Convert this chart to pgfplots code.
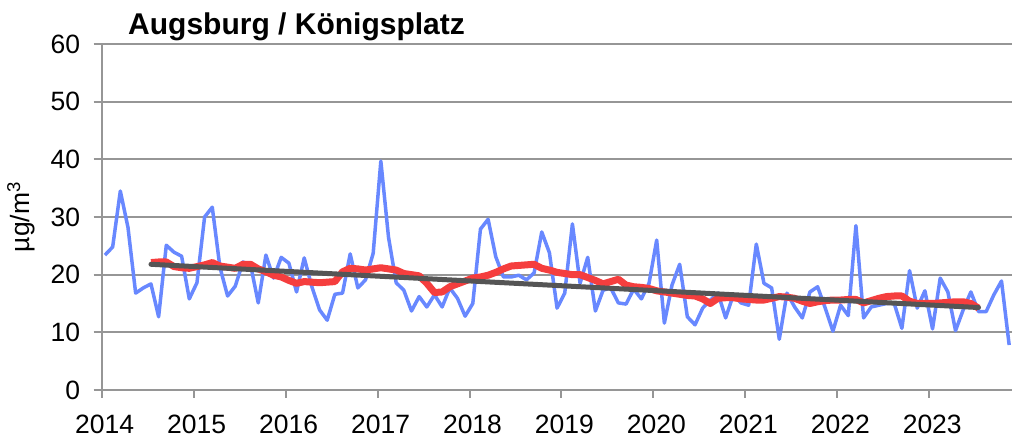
\documentclass[border=0pt]{standalone}
\usepackage{fontspec}
\setmainfont{Liberation Sans}
\usepackage{pgfplots}
\usepackage{pgfplotstable}
\pgfplotsset{compat=1.18}
\definecolor{cblue}{RGB}{104,136,255}
\definecolor{cred}{RGB}{245,62,62}
\definecolor{ctrend}{RGB}{85,85,85}
\definecolor{cgrid}{RGB}{150,150,150}

\pgfplotstableread{
m v
0 23.4
1 24.8
2 34.5
3 28.2
4 16.8
5 17.7
6 18.4
7 12.7
8 25.1
9 23.9
10 23.2
11 15.8
12 18.6
13 30.0
14 31.7
15 21.3
16 16.3
17 18.0
18 22.2
19 21.7
20 15.1
21 23.4
22 19.4
23 23.0
24 22.0
25 17.0
26 22.9
27 17.9
28 13.9
29 12.1
30 16.6
31 16.8
32 23.6
33 17.7
34 19.1
35 23.7
36 39.7
37 26.5
38 18.6
39 17.3
40 13.7
41 16.2
42 14.4
43 16.5
44 14.4
45 17.7
46 15.9
47 12.8
48 15.0
49 27.9
50 29.6
51 23.1
52 19.6
53 19.6
54 19.9
55 19.1
56 20.3
57 27.4
58 23.8
59 14.2
60 16.8
61 28.8
62 18.5
63 23.0
64 13.7
65 17.3
66 17.7
67 15.1
68 14.9
69 17.5
70 15.8
71 18.5
72 26.0
73 11.6
74 18.2
75 21.8
76 12.7
77 11.3
78 14.2
79 15.6
80 16.8
81 12.5
82 16.5
83 15.1
84 14.7
85 25.3
86 18.5
87 17.7
88 8.8
89 16.8
90 14.4
91 12.5
92 17.0
93 17.9
94 14.2
95 10.2
96 14.7
97 12.9
98 28.5
99 12.5
100 14.4
101 14.7
102 15.0
103 15.0
104 10.7
105 20.7
106 14.2
107 17.2
108 10.6
109 19.4
110 17.0
111 10.3
112 13.9
113 17.0
114 13.6
115 13.6
116 16.5
117 18.9
118 7.8
}\monthly

\pgfplotstableread{
m v
6 22.1
7 22.2
8 22.2
9 21.4
10 21.2
11 21.1
12 21.4
13 21.7
14 22.1
15 21.5
16 21.3
17 21.1
18 21.8
19 21.8
20 21.0
21 20.5
22 19.9
23 19.6
24 19.0
25 18.5
26 18.8
27 18.7
28 18.6
29 18.7
30 18.8
31 20.5
32 21.1
33 21.0
34 20.8
35 21.0
36 21.2
37 21.0
38 20.8
39 20.2
40 20.0
41 19.8
42 18.5
43 16.9
44 17.0
45 17.9
46 18.4
47 18.9
48 19.4
49 19.6
50 19.9
51 20.4
52 21.0
53 21.5
54 21.6
55 21.7
56 21.8
57 21.1
58 20.8
59 20.4
60 20.2
61 20.0
62 20.0
63 19.5
64 19.0
65 18.4
66 18.8
67 19.2
68 18.2
69 17.9
70 17.8
71 17.6
72 17.2
73 17.0
74 16.8
75 16.6
76 16.4
77 16.3
78 15.8
79 15.0
80 15.9
81 16.0
82 16.0
83 15.8
84 15.7
85 15.6
86 15.6
87 15.9
88 16.2
89 16.1
90 15.9
91 15.4
92 15.0
93 15.3
94 15.5
95 15.6
96 15.6
97 15.7
98 15.7
99 15.1
100 15.5
101 15.9
102 16.2
103 16.3
104 16.3
105 15.4
106 15.0
107 15.0
108 15.0
109 15.1
110 15.2
111 15.3
112 15.3
113 15.0
114 14.2
}\running

\pgfplotstableread{
m v
6 21.8
114 14.3
}\trend

\begin{document}
\begin{tikzpicture}
\path[use as bounding box] (-101.7pt,-48pt) rectangle (910.3pt,390pt);
\begin{axis}[
  scale only axis,
  width=910.3pt, height=346pt,
  xmin=0, xmax=118.8,
  ymin=0, ymax=60,
  xtick={0,12,24,36,48,60,72,84,96,108},
  xticklabels={2014,2015,2016,2017,2018,2019,2020,2021,2022,2023},
  ytick={0,10,20,30,40,50,60},
  axis x line=bottom, axis y line=left,
  axis line style={-, cgrid, line width=2pt},
  tick align=outside,
  major tick length=8pt,
  tick style={cgrid, line width=2pt},
  ymajorgrids,
  grid style={cgrid, line width=2pt},
  /pgf/number format/assume math mode=true,
  every tick label/.append style={font=\fontsize{26.5}{30}\selectfont},
  yticklabel style={xshift=-10pt},
  xticklabel style={yshift=-13pt, xshift=3pt},
  ylabel={µg/m\textsuperscript{3}},
  every axis y label/.style={at={(axis description cs:-0.0887,0.5)}, rotate=90, anchor=center, font=\fontsize{26.5}{30}\selectfont},
  title={Augsburg / Königsplatz},
  every axis title/.style={at={(rel axis cs:0,1)}, anchor=base west, xshift=23pt, yshift=9pt, font=\fontsize{30}{36}\selectfont\bfseries},
]
\addplot[cblue, line width=3.5pt, line join=round, mark=none] table[x expr=\thisrow{m}+0.43, y=v] {\monthly};
\addplot[cred, line width=7pt, line join=round, mark=none] table[x expr=\thisrow{m}+0.43, y=v] {\running};
\addplot[ctrend, line width=5pt, line cap=round, mark=none] table[x expr=\thisrow{m}+0.43, y=v] {\trend};
\end{axis}
\end{tikzpicture}
\end{document}
